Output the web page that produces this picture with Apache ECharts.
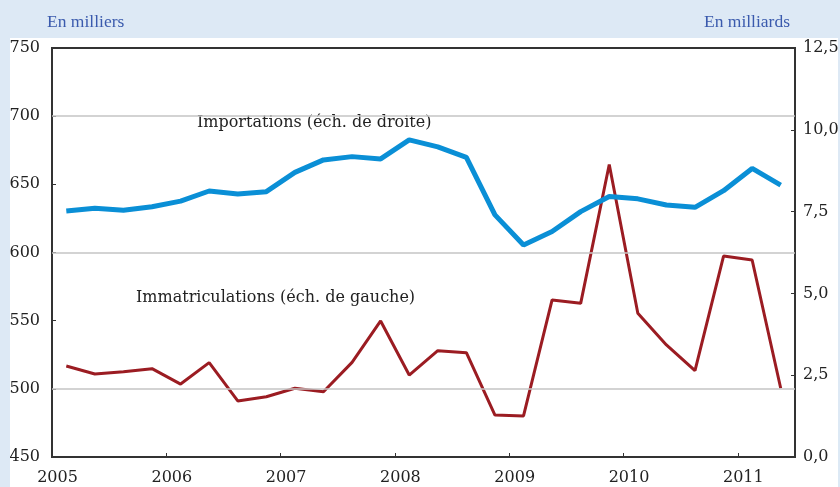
<!DOCTYPE html>
<html>
<head>
<meta charset="utf-8">
<script src="https://cdn.jsdelivr.net/npm/echarts@6/dist/echarts.min.js"></script>
<style>
  html, body { margin: 0; padding: 0; background: #dde9f5; }
  #panel { position: absolute; left: 10px; top: 38px; width: 828px; height: 449px; background: #fff; }
  #chart { position: absolute; left: 0; top: 0; width: 840px; height: 487px; }
</style>
</head>
<body>
<div id="panel"></div>
<div id="chart"></div>
<script>
// quarters (points drawn at the middle of each quarter)
const quarters = [
  '2005T1', '2005T2', '2005T3', '2005T4',
  '2006T1', '2006T2', '2006T3', '2006T4',
  '2007T1', '2007T2', '2007T3', '2007T4',
  '2008T1', '2008T2', '2008T3', '2008T4',
  '2009T1', '2009T2', '2009T3', '2009T4',
  '2010T1', '2010T2', '2010T3', '2010T4',
  '2011T1', '2011T2'
]
// immatriculations, en milliers (left scale)
const immatriculations = [
  516.7, 510.9, 512.6, 514.8, 503.5, 519.2, 491.1, 494.2,
  500.4, 497.9, 519.4, 549.8, 510.1, 528.0, 526.5, 480.8,
  480.1, 565.2, 562.7, 664.5, 555.4, 532.2, 513.3, 597.4,
  594.5, 500.4
]
// importations, en milliards (right scale)
const importations = [
  7.52, 7.60, 7.54, 7.65, 7.82, 8.13, 8.04, 8.11,
  8.70, 9.08, 9.18, 9.11, 9.69, 9.48, 9.16, 7.40,
  6.48, 6.89, 7.50, 7.96, 7.89, 7.70, 7.63, 8.14,
  8.82, 8.31
]
const gridValues = [500, 600, 700]

const quarterPos = q => Number(q.slice(0, 4)) + (Number(q.slice(5)) - 0.5) / 4

const serif = '"DejaVu Serif", serif'
const headFont = '17.5px "Liberation Serif", serif'
const labelStyle = { fontFamily: serif, fontSize: 16, color: '#222' }
const axisLine = { show: true, lineStyle: { color: '#333', width: 2 } }

const myChart = echarts.init(document.getElementById('chart'), null, { renderer: 'canvas' })

const option = {
  backgroundColor: 'transparent',
  animation: false,
  grid: {
    left: 52, right: 45, top: 48, bottom: 30,
    outerBoundsMode: 'none',
    show: true, borderColor: '#333', borderWidth: 2, backgroundColor: 'transparent'
  },
  xAxis: {
    type: 'value',
    min: 2005,
    max: 2011.5,
    interval: 1,
    axisLine: axisLine,
    axisTick: { inside: true, length: 4, lineStyle: { color: '#333' } },
    axisLabel: {
      ...labelStyle,
      margin: 13,
      padding: [0, 0, 0, 11],
      showMaxLabel: false,
      formatter: v => (Number.isInteger(v) ? String(v) : '')
    },
    splitLine: { show: false }
  },
  yAxis: [
    {
      type: 'value',
      min: 450,
      max: 750,
      interval: 50,
      position: 'left',
      axisLine: axisLine,
      axisTick: { show: true, inside: true, length: 4, lineStyle: { color: '#333' } },
      axisLabel: { ...labelStyle, margin: 12 },
      splitLine: { show: false }
    },
    {
      type: 'value',
      min: 0,
      max: 12.5,
      interval: 2.5,
      position: 'right',
      axisLine: axisLine,
      axisTick: { show: true, inside: true, length: 4, lineStyle: { color: '#333' } },
      axisLabel: { ...labelStyle, margin: 8, formatter: v => v.toFixed(1).replace('.', ',') },
      splitLine: { show: false }
    }
  ],
  graphic: [
    { type: 'text', left: 47, top: 13, style: { text: 'En milliers', font: headFont, fill: '#3a5aad' } },
    { type: 'text', right: 50, top: 13, style: { text: 'En milliards', font: headFont, fill: '#3a5aad' } },
    { type: 'text', left: 197, top: 115, style: { text: 'Importations (éch. de droite)', font: '16px ' + serif, fill: '#222' } },
    { type: 'text', left: 136, top: 290, style: { text: 'Immatriculations (éch. de gauche)', font: '16px ' + serif, fill: '#222' } }
  ],
  series: [
    {
      type: 'line',
      data: [],
      z: 1,
      silent: true,
      markLine: {
        silent: true,
        symbol: 'none',
        label: { show: false },
        lineStyle: { color: '#c4c4c4', width: 1.5, type: 'solid' },
        data: gridValues.map(v => ({ yAxis: v }))
      }
    },
    {
      name: 'Immatriculations',
      type: 'line',
      yAxisIndex: 0,
      z: 3,
      showSymbol: false,
      lineStyle: { color: '#9b1c22', width: 3 },
      data: quarters.map((q, i) => [quarterPos(q), immatriculations[i]])
    },
    {
      name: 'Importations',
      type: 'line',
      yAxisIndex: 1,
      z: 4,
      showSymbol: false,
      lineStyle: { color: '#0a8fd6', width: 5 },
      data: quarters.map((q, i) => [quarterPos(q), importations[i]])
    }
  ]
}
myChart.setOption(option)
</script>
</body>
</html>
